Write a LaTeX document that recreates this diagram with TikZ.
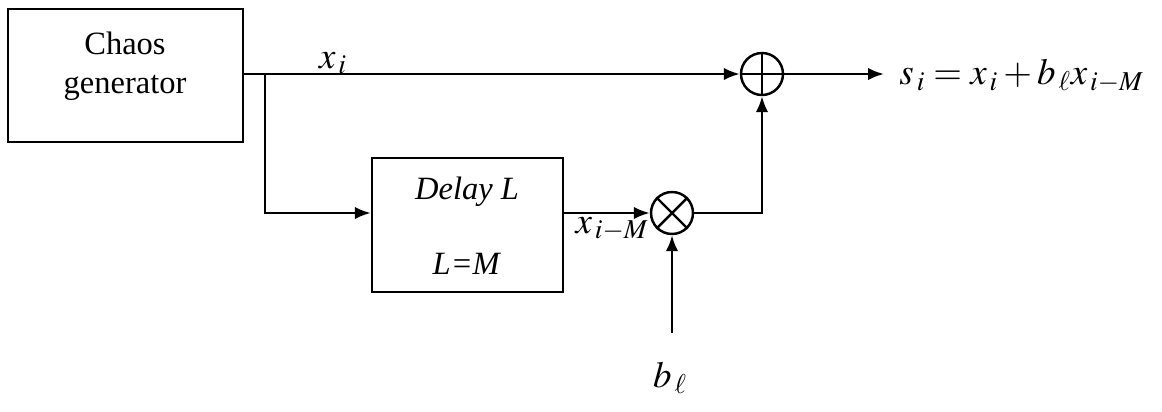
\documentclass[tikz,border=0pt]{standalone}
\usepackage{mathptmx}
\usepackage[no-math]{fontspec}
\setmainfont{Liberation Serif}
\usepackage{tikz}
\usetikzlibrary{arrows.meta}
\tikzstyle{blk}=[rectangle, draw=black, line width=1.4pt, inner sep=0pt]
\tikzstyle{op}=[circle, draw=black, line width=1.4pt, minimum size=0.84cm, inner sep=0pt]
\tikzstyle{sig}=[line width=1.4pt, -{Latex[length=3.2mm,width=2.5mm]}]
\tikzstyle{lbl}=[inner sep=0pt]
\newcommand{\mathsz}{\fontsize{21}{24}\selectfont}

\begin{document}
\begin{tikzpicture}[x=0.02cm, y=-0.02cm, font=\fontsize{18.5}{22}\selectfont]
    \useasboundingbox (0,0) rectangle (1162,412);

    % blocks
    \node[blk, minimum width=4.7cm, minimum height=2.66cm] (chaos) at (125.5,75.5) {};
    \node[lbl, align=center] (chaostxt) at (125,66) {Chaos\\generator};
    \node[blk, minimum width=3.82cm, minimum height=2.68cm] (delay) at (467.5,225) {};
    \node[lbl] (delaytxt) at (467,192) {\textit{Delay L}};
    \node[lbl] (lmtxt) at (467,264) {\textit{L=M}};

    % adder and multiplier
    \node[op] (add) at (762,74) {};
    \draw[line width=1.4pt] (add.north) -- (add.south) (add.west) -- (add.east);
    \node[op] (mul) at (672,213) {};
    \draw[line width=1.4pt] (mul.north west) -- (mul.south east) (mul.north east) -- (mul.south west);

    % signals
    \coordinate (br) at (265,74);
    \coordinate (bsrc) at (672,333);
    \node[lbl, anchor=west, font=\mathsz] (out) at (899,76) {$s_{\,i} = x_{\,i} + b_{\,\ell}x_{\,i-M}$};
    \node[lbl, font=\mathsz] (bl) at (670,378) {$b_{\,\ell}$};
    \node[lbl, font=\mathsz] (xi) at (333,63) {$x_{\,i}$};
    \node[lbl, font=\mathsz] (xim) at (612,229) {$x_{\,i-M}$};

    \draw[sig] (chaos.east |- add.west) -- (add.west);
    \draw[sig] (br) |- (delay.west |- mul.west);
    \draw[sig] (delay.east |- mul.west) -- (mul.west);
    \draw[sig] (mul.east) -| (add.south);
    \draw[sig] (bsrc) -- (mul.south);
    \draw[sig] (add.east) -- (884,74);
\end{tikzpicture}
\end{document}
